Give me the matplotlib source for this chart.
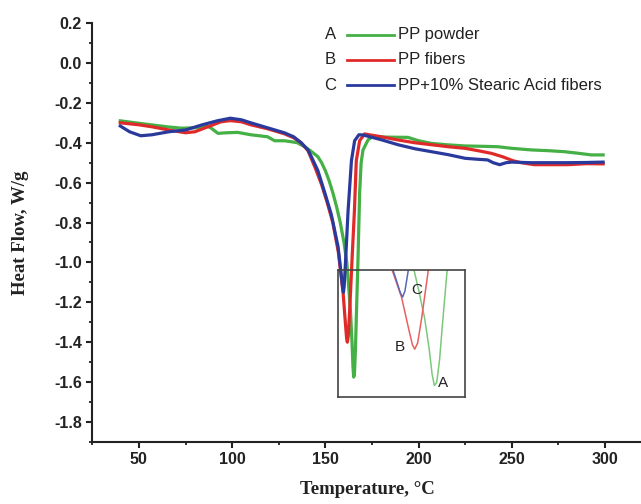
import matplotlib
matplotlib.use("Agg")
import matplotlib.pyplot as plt
from matplotlib.ticker import MultipleLocator

# DSC curves (temperature in C, heat flow in W/g)
tempA = [40, 48, 56.6, 65, 72.7, 80, 87, 88.8, 92.4, 97, 103, 110, 119, 122.8, 128, 131.8,
         135, 138.9, 142, 146, 148, 150, 152, 154, 156, 158, 160, 161.5, 162.5, 163.5, 164.3,
         164.8, 165.2, 165.6, 166.1, 166.6, 167.5, 168.4, 169.2, 170.2, 172.9, 175, 185, 194.3,
         200, 206.9, 215, 224.7, 235, 242.6, 250, 260.5, 270, 278.4, 285, 292.7, 299]
flowA = [-0.29, -0.30, -0.31, -0.32, -0.327, -0.325, -0.318, -0.327, -0.353, -0.35, -0.348,
         -0.36, -0.37, -0.39, -0.39, -0.395, -0.40, -0.42, -0.44, -0.47, -0.50, -0.54, -0.59,
         -0.65, -0.72, -0.80, -0.90, -1.00, -1.12, -1.25, -1.40, -1.52, -1.575, -1.56, -1.45,
         -1.28, -0.99, -0.65, -0.50, -0.436, -0.386, -0.37, -0.372, -0.373, -0.39, -0.403,
         -0.41, -0.416, -0.418, -0.42, -0.428, -0.436, -0.44, -0.445, -0.452, -0.461, -0.461]

tempB = [40, 50, 57, 66, 75, 80, 87, 94, 99, 105, 110, 119, 128, 133, 137, 140.7, 144.3, 148,
         151, 154, 157, 159.5, 160.8, 161.4, 161.8, 162.3, 163, 164.5, 165.6, 166.6, 168.4,
         171, 180, 189, 198, 207, 216, 225, 232, 239, 245, 250.6, 255, 262, 270, 280, 290, 299]
flowB = [-0.30, -0.31, -0.32, -0.336, -0.35, -0.345, -0.32, -0.295, -0.289, -0.295, -0.31,
         -0.33, -0.355, -0.375, -0.40, -0.44, -0.52, -0.61, -0.70, -0.80, -0.95, -1.15, -1.31,
         -1.38, -1.40, -1.37, -1.25, -0.95, -0.74, -0.49, -0.39, -0.356, -0.37, -0.386, -0.40,
         -0.41, -0.42, -0.428, -0.44, -0.453, -0.47, -0.49, -0.50, -0.51, -0.51, -0.51,
         -0.505, -0.506]

tempC = [40, 45, 51, 57, 66, 75, 84, 92, 99, 105, 110, 119, 128, 133, 137, 140.7, 142.5, 146,
         148, 150, 153.2, 156.8, 158.5, 159.3, 159.7, 160.1, 160.8, 162.2, 164, 165.7, 168,
         170.2, 180, 189, 198, 207, 216, 225, 232, 237, 240, 243.5, 247, 250, 260, 270, 280,
         290, 299]
flowC = [-0.316, -0.345, -0.365, -0.36, -0.345, -0.336, -0.31, -0.29, -0.277, -0.285, -0.30,
         -0.325, -0.35, -0.37, -0.40, -0.436, -0.47, -0.54, -0.60, -0.66, -0.76, -0.92, -1.06,
         -1.13, -1.15, -1.12, -1.00, -0.74, -0.49, -0.39, -0.36, -0.361, -0.385, -0.41, -0.43,
         -0.445, -0.46, -0.478, -0.483, -0.486, -0.50, -0.51, -0.50, -0.497, -0.50, -0.50,
         -0.50, -0.499, -0.497]

letters = ["A", "B", "C"]
labels = ["PP powder", "PP fibers", "PP+10% Stearic Acid fibers"]
colors = ["#45b045", "#e02a2a", "#2a3a9c"]
light = ["#7cc87c", "#e86060", "#5a68b8"]
series = [(tempA, flowA), (tempB, flowB), (tempC, flowC)]

fig = plt.figure(figsize=(6.41, 5.04), dpi=100)
ax = fig.add_axes([0.144, 0.1232, 0.858, 0.831])

for (t, f), c in zip(series, colors):
    ax.plot(t, f, color=c, lw=2.3, solid_joinstyle="round")

ax.set_xlim(25, 320)
ax.set_ylim(-1.9, 0.2)
ax.xaxis.set_minor_locator(MultipleLocator(25))
ax.yaxis.set_minor_locator(MultipleLocator(0.1))
ax.set_yticks([-1.8, -1.6, -1.4, -1.2, -1.0, -0.8, -0.6, -0.4, -0.2, 0.0, 0.2])
ax.set_xticks([50, 100, 150, 200, 250, 300])
ax.yaxis.set_major_formatter(plt.FuncFormatter(lambda v, p: f"{v:.1f}"))

for side in ["top", "right"]:
    ax.spines[side].set_visible(False)
for side in ["left", "bottom"]:
    ax.spines[side].set_linewidth(1.5)
    ax.spines[side].set_color("#222222")

ax.tick_params(which="major", direction="out", length=4.5, width=1.5, color="#222222",
               labelsize=11.5, labelcolor="#222222", pad=3)
ax.tick_params(which="minor", direction="out", length=2.5, width=1.3, color="#222222")
for lab in ax.get_xticklabels() + ax.get_yticklabels():
    lab.set_fontfamily("Liberation Sans")
    lab.set_fontweight("bold")

ax.set_xlabel("Temperature, °C", fontfamily="Liberation Serif", fontweight="bold",
              fontsize=13.5, color="#222222", labelpad=10)
ax.set_ylabel("Heat Flow, W/g", fontfamily="Liberation Serif", fontweight="bold",
              fontsize=13.5, color="#222222", labelpad=18)

# hand-made legend with letter keys
rows = [0.972, 0.912, 0.852]
for r, let, lab, c in zip(rows, letters, labels, colors):
    ax.text(0.433, r, let, transform=ax.transAxes, ha="center", va="center",
            fontfamily="Liberation Sans", fontsize=12, color="#222222")
    ax.plot([0.464, 0.548], [r, r], transform=ax.transAxes, color=c, lw=2.0,
            clip_on=False)
    ax.text(0.555, r, lab, transform=ax.transAxes, ha="left", va="center",
            fontfamily="Liberation Sans", fontsize=12, color="#222222")

# zoomed inset of the melting peaks
ins = ax.inset_axes([156.8, -1.675, 68.1, 0.637], transform=ax.transData)
ins.set_facecolor("none")
for (t, f), c in zip(series, light):
    ins.plot(t, f, color=c, lw=1.1)
ins.set_xlim(148.5, 170.5)
ins.set_ylim(-1.63, -1.02)
ins.set_xticks([])
ins.set_yticks([])
for sp in ins.spines.values():
    sp.set_linewidth(1.2)
    sp.set_color("#444444")
for let, (px, py) in zip(letters, [(0.83, 0.11), (0.49, 0.39), (0.62, 0.84)]):
    ins.text(px, py, let, transform=ins.transAxes, ha="center", va="center",
             fontfamily="Liberation Sans", fontsize=11, color="#222222")

fig.savefig("out.png", dpi=100)
